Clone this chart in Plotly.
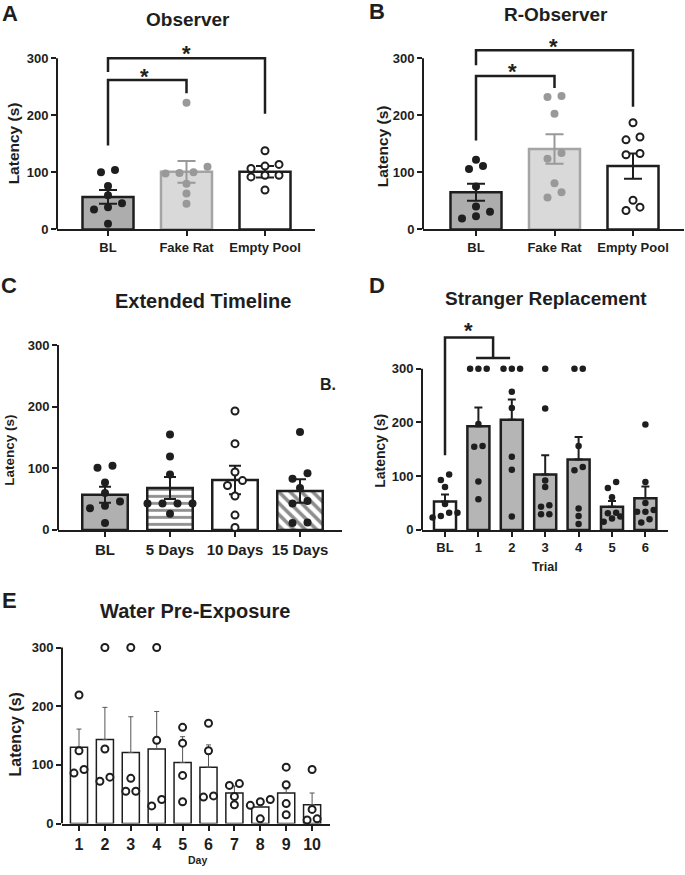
import plotly.graph_objects as go

W, H = 685, 875
FONT = "Liberation Sans, Arial, Helvetica, sans-serif"
INK = "#1e1e1e"

# ---------------- Data ----------------
A_cats = ["BL", "Fake Rat", "Empty Pool"]
A_mean = [57, 101, 101]
A_sem = [12, 19, 10]
A_bl = [100, 104, 76, 60, 46, 39, 35, 10]
A_fake = [222, 110, 100, 99, 98, 80, 63, 45]
A_empty = [138, 114, 111, 107, 95, 95, 92, 69]

B_cats = ["BL", "Fake Rat", "Empty Pool"]
B_mean = [65, 141, 111]
B_sem = [15, 26, 22]
B_bl = [122, 111, 106, 75, 40, 31, 23, 19]
B_fake = [234, 232, 203, 134, 124, 81, 65, 56]
B_empty = [187, 162, 157, 133, 131, 51, 39, 33]

C_cats = ["BL", "5 Days", "10 Days", "15 Days"]
C_mean = [57, 68, 81, 63]
C_sem = [13, 18, 23, 19]
C_bl = [104, 101, 77, 60, 46, 39, 35, 11]
C_5d = [155, 119, 90, 43, 43, 43, 43, 26]
C_10d = [193, 140, 94, 80, 72, 55, 24, 4]
C_15d = [159, 92, 83, 68, 47, 43, 12, 11]

D_cats = ["BL", "1", "2", "3", "4", "5", "6"]
D_mean = [53, 193, 205, 103, 131, 43, 59]
D_sem = [13, 35, 38, 36, 42, 11, 22]
D_bl = [103, 93, 80, 48, 32, 32, 26, 23]
D_t1 = [300, 300, 300, 197, 156, 155, 90, 57]
D_t2 = [300, 300, 300, 257, 227, 136, 112, 25]
D_t3 = [300, 226, 92, 80, 46, 43, 29, 29]
D_t4 = [300, 300, 156, 117, 111, 40, 26, 11]
D_t5 = [89, 78, 61, 32, 31, 25, 21, 15]
D_t6 = [196, 89, 50, 37, 34, 34, 20, 14]

E_cats = ["1", "2", "3", "4", "5", "6", "7", "8", "9", "10"]
E_mean = [130, 143, 121, 127, 104, 96, 52, 28, 52, 32]
E_sem = [31, 55, 61, 64, 44, 38, 12, 6, 7, 20]
E_d1 = [219, 124, 92, 86]
E_d2 = [300, 127, 79, 72]
E_d3 = [300, 77, 55, 55]
E_d4 = [300, 142, 41, 30]
E_d5 = [164, 137, 82, 37]
E_d6 = [171, 124, 47, 45]
E_d7 = [68, 65, 46, 32]
E_d8 = [41, 37, 31, 8]
E_d9 = [96, 66, 34, 15]
E_d10 = [92, 24, 8, 6]

Y_TICKS = [0, 100, 200, 300]
Y_TITLE = "Latency (s)"

# significance brackets: (x_left, x_right, left_leg_bottom, top, right_leg_bottom)
A_brackets = [(0, 2, 276, 300, 203), (0, 1, 147, 262, 239)]
B_brackets = [(0, 2, 288, 314, 215), (0, 1, 156, 269, 248)]
A_stars = [(1.0, 308), (0.47, 268)]
B_stars = [(0.99, 320), (0.46, 277)]

# ---------------- Layout geometry (pixels) ----------------
GEOM = {
    "A": dict(ax="", L=57, R=315, Y0=230, Y3=57, C0=108, S=78.5, ymax=330),
    "B": dict(ax="2", L=423, R=684, Y0=230, Y3=57, C0=476, S=78.5, ymax=335),
    "C": dict(ax="3", L=58, R=342, Y0=534, Y3=347, C0=105, S=65, ymax=310),
    "D": dict(ax="4", L=422, R=668, Y0=534, Y3=371, C0=445, S=33.4, ymax=372),
    "E": dict(ax="5", L=62, R=330, Y0=831, Y3=653, C0=79, S=25.9, ymax=310),
}


def px(x):
    return x / W


def py(y):
    return 1 - y / H


def swarm(vals, k, thresh_px, step_px, S):
    """Deterministic column-scatter layout: spread points that would overlap."""
    order = sorted(range(len(vals)), key=lambda i: vals[i])
    offs = [0.0] * len(vals)
    clusters, cur = [], []
    for i in order:
        if cur and (vals[i] - vals[cur[0]]) * k >= thresh_px:
            clusters.append(cur)
            cur = []
        cur.append(i)
    clusters.append(cur)
    for c in clusters:
        n = len(c)
        for j, i in enumerate(c):
            offs[i] = (j - (n - 1) / 2) * step_px / S
    return offs


fig = go.Figure()
layout = dict(
    width=W, height=H, margin=dict(l=0, r=0, t=0, b=0),
    paper_bgcolor="white", plot_bgcolor="white", showlegend=False,
    barmode="overlay",
)
shapes, annots = [], []


def setup_panel(key, cats, tick_size, ytick_size=13):
    g = GEOM[key]
    k = (g["Y0"] - g["Y3"]) / 300.0
    g["k"] = k
    top_px = g["Y0"] - g["ymax"] * k
    xa = "xaxis" + g["ax"]
    ya = "yaxis" + g["ax"]
    layout[xa] = dict(
        domain=[px(g["L"]), px(g["R"])],
        range=[(g["L"] - g["C0"]) / g["S"], (g["R"] - g["C0"]) / g["S"]],
        anchor="y" + g["ax"], showline=True, linewidth=2, linecolor=INK,
        ticks="outside", ticklen=5, tickwidth=2, tickcolor=INK,
        tickvals=list(range(len(cats))), ticktext=cats,
        tickfont=dict(family=FONT, size=tick_size, color=INK, weight="bold"),
        showgrid=False, zeroline=False, fixedrange=True,
    )
    layout[ya] = dict(
        domain=[py(g["Y0"]), py(top_px)],
        range=[0, g["ymax"]], anchor="x" + g["ax"],
        showline=False, ticks="outside", ticklen=5, tickwidth=2, tickcolor=INK,
        tickvals=Y_TICKS, showgrid=False, zeroline=False,
        tickfont=dict(family=FONT, size=ytick_size, color=INK, weight="bold"),
        fixedrange=True,
    )
    # y-axis line only spanning 0..300
    shapes.append(dict(type="line", xref="x" + g["ax"] + " domain", yref="y" + g["ax"],
                       x0=0, x1=0, y0=0, y1=300, line=dict(color=INK, width=2)))
    return g


def add_bar(g, i, mean, sem, fill, edge, lw, bw, err_col, err_w, err_th, up_only=False, pattern=None):
    marker = dict(color=fill, line=dict(color=edge, width=lw))
    if pattern:
        marker["pattern"] = pattern
    err = dict(type="data", array=[sem], visible=True, color=err_col,
               thickness=err_th, width=err_w)
    if up_only:
        err.update(symmetric=False, arrayminus=[0])
    fig.add_trace(go.Bar(x=[i], y=[mean], width=bw, marker=marker, error_y=err,
                         xaxis="x" + g["ax"], yaxis="y" + g["ax"], hoverinfo="skip"))


def add_points(g, i, vals, size, color, open_=False, thresh=7.5, step=14, lw=2):
    offs = swarm(vals, g["k"], thresh, step, g["S"])
    if open_:
        mk = dict(size=size, color="white", line=dict(color=INK, width=lw))
    else:
        mk = dict(size=size, color=color, line=dict(width=0))
    fig.add_trace(go.Scatter(x=[i + o for o in offs], y=vals, mode="markers", marker=mk,
                             cliponaxis=False, xaxis="x" + g["ax"], yaxis="y" + g["ax"],
                             hoverinfo="skip"))


def text(x, y, s, size, xref="paper", yref="paper", angle=0):
    annots.append(dict(x=x, y=y, xref=xref, yref=yref, text=s, showarrow=False,
                       textangle=angle, xanchor="center", yanchor="middle",
                       font=dict(family=FONT, size=size, color=INK, weight="bold")))


def brackets(g, br, stars):
    for (x0, x1, yl, yt, yr) in br:
        shapes.append(dict(type="path", xref="x" + g["ax"], yref="y" + g["ax"],
                           path=f"M {x0},{yl} L {x0},{yt} L {x1},{yt} L {x1},{yr}",
                           line=dict(color=INK, width=2.5)))
    for (sx, sy) in stars:
        text(sx, sy, "*", 22, xref="x" + g["ax"], yref="y" + g["ax"])


# ---------------- Panels A and B ----------------
GRAY_FILL, LIGHT_FILL, LIGHT_EDGE, LIGHT_PT = "#adadad", "#d9d9d9", "#a4a4a4", "#999999"
for key, cats, means, sems, groups, br, st in [
    ("A", A_cats, A_mean, A_sem, [A_bl, A_fake, A_empty], A_brackets, A_stars),
    ("B", B_cats, B_mean, B_sem, [B_bl, B_fake, B_empty], B_brackets, B_stars),
]:
    g = setup_panel(key, cats, 13)
    styles = [
        (GRAY_FILL, INK, INK, INK, False),
        (LIGHT_FILL, LIGHT_EDGE, LIGHT_PT, LIGHT_PT, False),
        ("white", INK, INK, INK, True),
    ]
    for i, (fill, edge, errc, ptc, op) in enumerate(styles):
        add_bar(g, i, means[i], sems[i], fill, edge, 2.5, 0.65, errc, 9, 2)
    for i, (fill, edge, errc, ptc, op) in enumerate(styles):
        add_points(g, i, groups[i], 8 if not op else 7, ptc, open_=op, thresh=7.5, step=14)
    brackets(g, br, st)

# ---------------- Panel C ----------------
g = setup_panel("C", C_cats, 15)
add_bar(g, 0, C_mean[0], C_sem[0], "#b0b0b0", INK, 2.5, 0.7, INK, 6, 2)
add_bar(g, 1, C_mean[1], C_sem[1], "white", INK, 2.5, 0.7, INK, 6, 2,
        pattern=dict(shape="-", fgcolor=INK, bgcolor="white", size=7, solidity=0.4))
add_bar(g, 2, C_mean[2], C_sem[2], "white", INK, 2.5, 0.7, INK, 6, 2)
add_bar(g, 3, C_mean[3], C_sem[3], "white", INK, 2.5, 0.7, INK, 6, 2,
        pattern=dict(shape="\\", fgcolor=INK, bgcolor="white", size=8, solidity=0.45))
for i, (vals, op) in enumerate([(C_bl, False), (C_5d, False), (C_10d, True), (C_15d, False)]):
    add_points(g, i, vals, 8 if not op else 7, INK, open_=op, thresh=8, step=15)
text(3.43, 236, "B.", 16, xref="x3", yref="y3")

# ---------------- Panel D ----------------
g = setup_panel("D", D_cats, 13)
D_groups = [D_bl, D_t1, D_t2, D_t3, D_t4, D_t5, D_t6]
for i in range(len(D_cats)):
    add_bar(g, i, D_mean[i], D_sem[i], "white" if i == 0 else "#b5b5b5", INK, 2.5, 0.66,
            INK, 4, 2, up_only=True)
for i, vals in enumerate(D_groups):
    add_points(g, i, vals, 6.5, INK, thresh=6, step=8.3)
shapes.append(dict(type="path", xref="x4", yref="y4",
                   path="M 0,139 L 0,358 L 1.44,358 L 1.44,320",
                   line=dict(color=INK, width=2.5)))
shapes.append(dict(type="line", xref="x4", yref="y4", x0=0.93, x1=1.95, y0=320, y1=320,
                   line=dict(color=INK, width=2.5)))
text(0.69, 372, "*", 22, xref="x4", yref="y4")

# ---------------- Panel E ----------------
g = setup_panel("E", E_cats, 16)
E_groups = [E_d1, E_d2, E_d3, E_d4, E_d5, E_d6, E_d7, E_d8, E_d9, E_d10]
for i in range(len(E_cats)):
    add_bar(g, i, E_mean[i], E_sem[i], "white", INK, 1.5, 0.66, "#555555", 2.5, 1, up_only=True)
for i, vals in enumerate(E_groups):
    add_points(g, i, vals, 7, INK, open_=True, thresh=8, step=10)

# ---------------- Titles and labels ----------------
for (s, x, y, size) in [("A", 10, 12, 22), ("B", 377, 10, 22), ("C", 9, 287, 22),
                        ("D", 377, 287, 22), ("E", 9, 605, 22)]:
    text(px(x), py(y), s, size)
for (s, x, y, size) in [("Observer", 188, 18, 19), ("R-Observer", 556, 13, 19),
                        ("Extended Timeline", 203, 302, 20), ("Stranger Replacement", 546, 300, 19),
                        ("Water Pre-Exposure", 195, 616, 20)]:
    text(px(x), py(y), s, size)
for (x, y, size) in [(13, 143, 15.5), (382, 146, 15.5), (10, 454, 13.5), (380, 454, 14), (16, 741, 16)]:
    text(px(x), py(y), Y_TITLE, size, angle=-90)
text(px(545), py(572), "Trial", 12.5)
text(px(197), py(868), "Day", 10.5)

layout["shapes"] = shapes
layout["annotations"] = annots
fig.update_layout(**layout)

PAGE_CSS = ("html,body{margin:0;padding:0;overflow:hidden;width:685px;height:875px;}"
            "body>div{line-height:0;height:875px;overflow:hidden;}")
fig.write_html(
    "out.html",
    config={"displayModeBar": False, "staticPlot": True},
    post_script=("var s=document.createElement('style');s.innerHTML='" + PAGE_CSS + "';"
                 "document.head.appendChild(s);"),
)
